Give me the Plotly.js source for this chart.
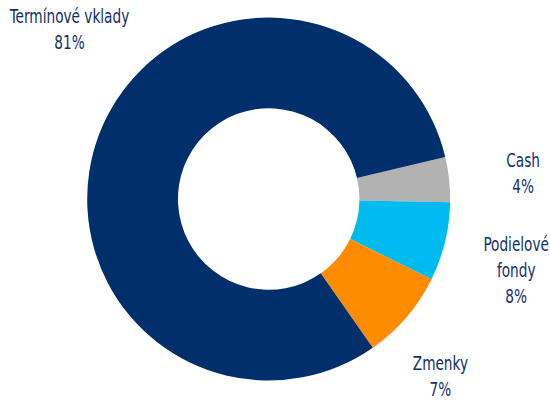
<!DOCTYPE html>
<html>
<head>
<meta charset="utf-8">
<script src="https://cdn.plot.ly/plotly-3.0.1.min.js"></script>
<style>html,body{margin:0;padding:0;background:#fff;}#chart{width:550px;height:402px;}</style>
</head>
<body>
<div id="chart"></div>
<script>
// Slices in clockwise order, starting with Cash
const categories = ["Cash", "Podielové fondy", "Zmenky", "Termínové vklady"];
const values = [4, 7, 8, 81];
const colors = ["#B2B2B2", "#00BBF0", "#FF8C00", "#002F6B"];
// Label texts as printed in the chart
const labelTexts = ["Cash<br>4%", "Podielové<br>fondy<br>8%", "Zmenky<br>7%", "Termínové vklady<br>81%"];
const labelX = [523, 516, 440, 70];
const labelY = [173, 270, 376, 29];

const W = 550, H = 402;
const cx = 268.7, cy = 199, r = 181.5;

const font = "'DejaVu Sans Condensed', 'DejaVu Sans', sans-serif";
const textColor = "#132F6B";
const squeeze = 0.76;

const annotations = labelTexts.map((t, i) => ({
  text: t, xref: "paper", yref: "paper",
  x: labelX[i] / W, y: 1 - labelY[i] / H,
  xanchor: "center", yanchor: "middle", align: "center",
  showarrow: false, borderpad: 0,
  font: {family: font, size: 20, color: textColor, stretch: "semi-condensed"}
}));

const trace = {
  type: "pie",
  labels: categories,
  values: values,
  marker: {colors: colors, line: {width: 0}},
  hole: 0.5,
  sort: false,
  direction: "clockwise",
  rotation: 76.6,
  textinfo: "none",
  hoverinfo: "label+percent",
  domain: {x: [(cx - r) / W, (cx + r) / W], y: [(H - cy - r) / H, (H - cy + r) / H]}
};

Plotly.newPlot("chart", [trace], {
  width: W, height: H,
  margin: {l: 0, r: 0, t: 0, b: 0},
  showlegend: false,
  paper_bgcolor: "#fff",
  annotations: annotations
}, {displayModeBar: false, staticPlot: true}).then(gd => {
  // narrow the label glyphs to mimic the condensed typeface of the original
  gd.querySelectorAll(".annotation-text").forEach(t => {
    const b = t.getBBox();
    const c = b.x + b.width / 2;
    t.setAttribute("transform", `translate(${c},0) scale(${squeeze},1) translate(${-c},0)`);
  });
});
</script>
</body>
</html>
